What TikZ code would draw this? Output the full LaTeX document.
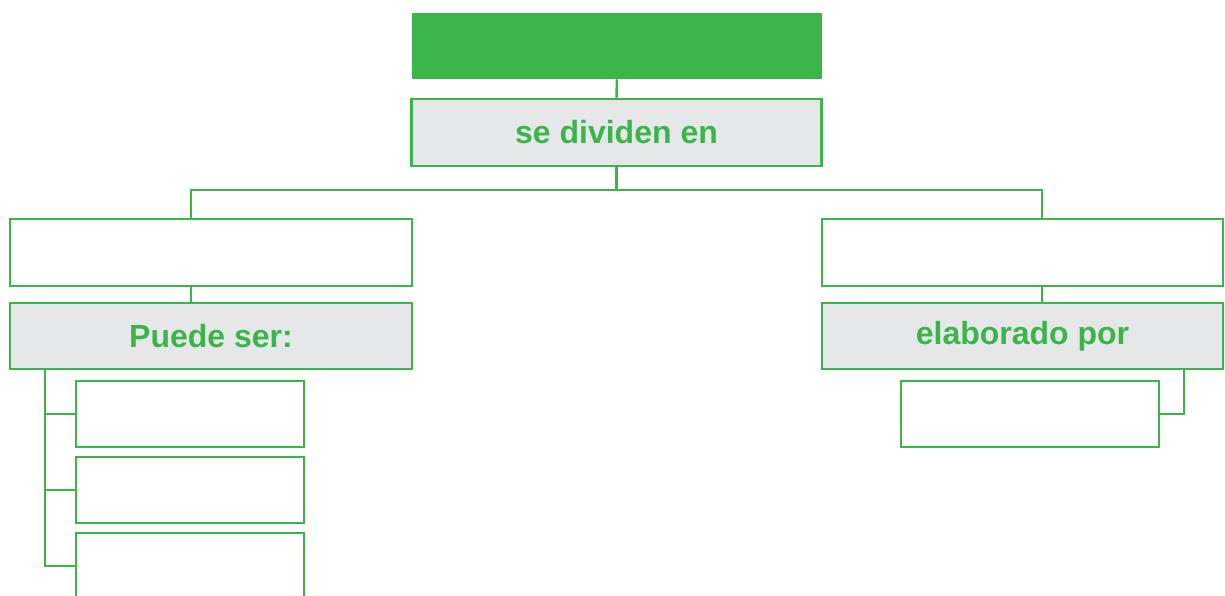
\documentclass[tikz,border=0pt]{standalone}
\usepackage{fontspec}
\setmainfont{Liberation Sans}
\definecolor{leafgreen}{HTML}{3BB54A}
\definecolor{panelgray}{HTML}{E6E7E8}
\def\pxu{0.75pt}
\tikzset{
  box/.style={draw=leafgreen, line width=1.9pt, fill=white, inner sep=0pt,
    minimum width=#1*\pxu, minimum height=66*\pxu},
  box/.default=402,
  labelbox/.style={box, fill=panelgray, text=leafgreen,
    font=\fontsize{24}{28}\selectfont\bfseries},
  titlebox/.style={fill=leafgreen, inner sep=0pt,
    minimum width=410*\pxu, minimum height=66*\pxu},
  link/.style={draw=leafgreen, line width=1.9pt}
}
\begin{document}
\begin{tikzpicture}[x=0.75pt, y=-0.75pt]
\useasboundingbox (0,0) rectangle (1225,596);
\clip (0,0) rectangle (1225,596);

% header and first label
\node[titlebox] (top) at (617,46) {};
\node[labelbox, minimum width=410*\pxu, minimum height=67*\pxu] (se) at (616.5,132.5) {se dividen en};

% left branch
\node[box, minimum height=67*\pxu] (L1) at (211,252.5) {};
\node[labelbox] (P) at (211,336) {Puede ser:};
\node[box=228] (C1) at (190,414) {};
\node[box=228] (C2) at (190,490) {};
\node[box=228] (C3) at (190,566) {};

% right branch
\node[box=401, minimum height=67*\pxu] (R1) at (1022.5,252.5) {};
\node[labelbox, minimum width=401*\pxu] (E) at (1022.5,336) {elaborado por};
\node[box=258] (RC) at (1030,414) {};

% junction points
\coordinate (jl) at (191,190);
\coordinate (jr) at (1042,190);
\coordinate (sp) at (45,369);
\coordinate (ep) at (1184,369);

% connectors
\draw[link] (top.south) -- (se.north);
\draw[link] (se.south) |- (jl) -- (jl |- L1.north);
\draw[link] (se.south) |- (jr) -- (jr |- R1.north);
\draw[link] (L1.south -| jl) -- (P.north -| jl);
\draw[link] (R1.south -| jr) -- (E.north -| jr);
\draw[link] (sp |- P.south) |- (C3.west);
\draw[link] (sp |- C1.west) -- (C1.west);
\draw[link] (sp |- C2.west) -- (C2.west);
\draw[link] (ep |- E.south) |- (RC.east);
\end{tikzpicture}
\end{document}
